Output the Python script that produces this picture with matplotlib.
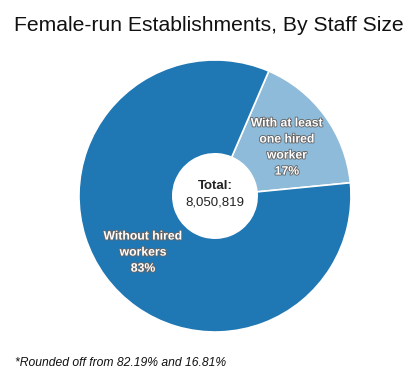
import matplotlib
matplotlib.use("Agg")
import matplotlib.pyplot as plt
import matplotlib.patheffects as pe
import numpy as np

categories = ["With at least\none hired\nworker", "Without hired\nworkers"]
values = [16.81, 82.19]
pct_labels = ["17%", "83%"]
colors = ["#8fbbda", "#1f77b4"]
total_label = "8,050,819"
title = "Female-run Establishments, By Staff Size"
footnote = "*Rounded off from 82.19% and 16.81%"

plt.rcParams['font.family'] = ['Liberation Sans', 'DejaVu Sans']

fig = plt.figure(figsize=(4.17, 3.77), dpi=100)
ax = fig.add_axes([0.1894, 0.1194, 0.6523, 0.7215])

inner = 0.31
wedges, _ = ax.pie(values, colors=colors, startangle=66.7, counterclock=False,
                   radius=1.0, wedgeprops=dict(width=1 - inner, edgecolor="white", linewidth=1.2))
ax.set_xlim(-1, 1)
ax.set_ylim(-1, 1)
ax.set_aspect("equal")
ax.axis("off")

mid_r = (1 + inner) / 2
for w, cat, pct in zip(wedges, categories, pct_labels):
    th = np.deg2rad((w.theta1 + w.theta2) / 2)
    x, y = mid_r * np.cos(th), mid_r * np.sin(th) - 0.03
    lines = cat.split("\n")
    n = len(lines) + 1
    lh = 0.118
    y0 = y + (n - 1) * lh / 2
    for i, ln in enumerate(lines + [pct]):
        ax.text(x, y0 - i * lh, ln, ha="center", va="center", color="white",
                fontsize=8.8, fontweight="bold",
                path_effects=[pe.withStroke(linewidth=1.3, foreground="#666666")])

ax.text(0, 0.075, "Total:", ha="center", va="center", fontsize=9.5, fontweight="bold", color="#222222")
ax.text(0, -0.045, total_label, ha="center", va="center", fontsize=9.5, color="#222222")

fig.text(0.5, 0.932, title, ha="center", va="center", fontsize=15.2, color="#111111")
fig.text(0.036, 0.037, footnote, ha="left", va="center", fontsize=8.7, style="italic", color="#111111")

fig.savefig("out.png", dpi=100)
